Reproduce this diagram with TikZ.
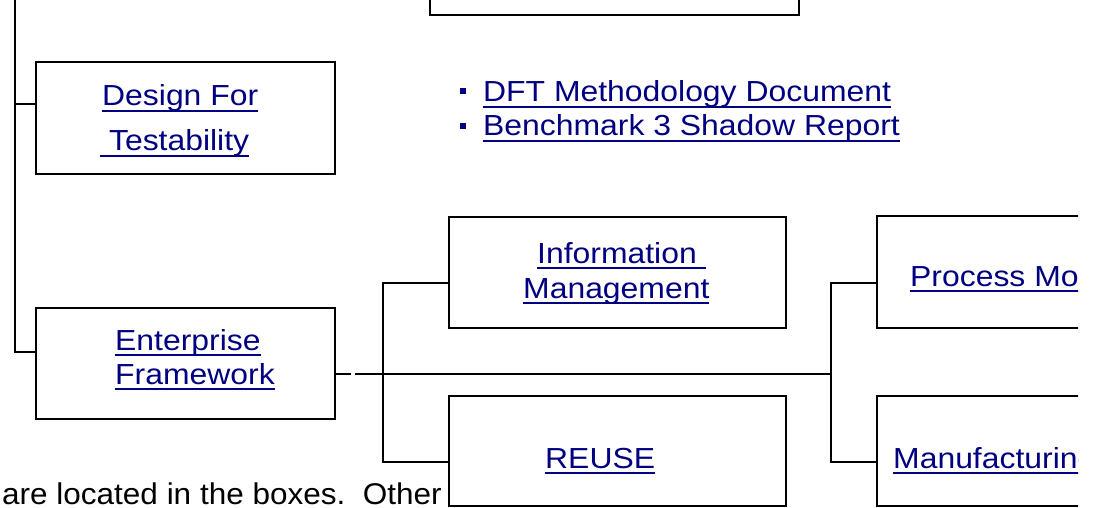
\documentclass[tikz,border=0pt]{standalone}
\usepackage{fontspec}
\setmainfont{Liberation Sans}[FakeStretch=1.1]
\newfontfamily\plainfont{Liberation Sans}[FakeStretch=1.05]
\definecolor{linkc}{RGB}{0,0,128}
\newcommand\lnk[1]{\setbox0\hbox{#1}\rlap{\color{linkc}\rule[-6pt]{\wd0}{2pt}}\box0}
\begin{document}
\begin{tikzpicture}[x=1pt,y=-1pt,
  box/.style={draw=black,line width=2.1pt,rectangle,inner sep=0pt},
  conn/.style={draw=black,line width=2.1pt},
  lbl/.style={anchor=base west,inner sep=0pt,text=linkc,font=\fontsize{29}{33}\selectfont},
  plain/.style={anchor=base west,inner sep=0pt,text=black,font=\plainfont\fontsize{30}{34}\selectfont},
  bulletsq/.style={fill=linkc,draw=none,minimum size=6pt,inner sep=0pt,rectangle}]
\useasboundingbox (0,0) rectangle (1096,508);
\clip (0,0) rectangle (1078,508);
% boxes
\node[box,minimum width=369pt,minimum height=115pt] (top) at (614.5,-42.5) {};
\node[box,minimum width=299pt,minimum height=112pt] (des) at (185.5,118) {};
\node[box,minimum width=299pt,minimum height=111pt] (ent) at (185.5,363.5) {};
\node[box,minimum width=337pt,minimum height=111pt] (info) at (617.5,272.5) {};
\node[box,minimum width=337pt,minimum height=110pt] (reuse) at (617.5,451) {};
\node[box,minimum width=273pt,minimum height=112pt] (proc) at (1013.5,272) {};
\node[box,minimum width=273pt,minimum height=110pt] (manu) at (1013.5,451) {};
% texts
\node[lbl] (t1) at (102,106) {\lnk{Design For}};
\node[lbl] (t2) at (100,151) {\lnk{ Testability}};
\node[lbl] (t3) at (115,350) {\lnk{Enterprise}};
\node[lbl] (t4) at (115,384) {\lnk{Framework}};
\node[lbl] (t5) at (537,263) {\lnk{Information }};
\node[lbl] (t6) at (523,298) {\lnk{Management}};
\node[lbl] (t7) at (545,468) {\lnk{REUSE}};
\node[lbl] (t8) at (910,286) {\lnk{Process Mo}};
\node[lbl] (t9) at (893,468) {\lnk{Manufacturing}};
\node[bulletsq] (b1) at (463,91) {};
\node[bulletsq] (b2) at (463,126) {};
\node[lbl] (l1) at (483,102) {\lnk{DFT Methodology Document}};
\node[lbl] (l2) at (483,136) {\lnk{Benchmark 3 Shadow Report}};
\node[plain] (note) at (2,504) {are located in the boxes.\ \ Other};
% connectors
\coordinate (trunk) at (15,0);
\coordinate (gapA) at (351,374);
\coordinate (gapB) at (355,374);
\coordinate (hub1) at (383,374);
\coordinate (hub2) at (831,374);
\draw[conn] (trunk) |- ([yshift=11.5pt]ent.west);
\draw[conn] ([yshift=14pt]des.west) -- ([yshift=14pt]des.west -| trunk);
\draw[conn] ([yshift=-10.5pt]ent.east) -- (gapA);
\draw[conn] (gapB) -- (hub2);
\draw[conn] ([yshift=-10.5pt]info.west) -| (hub1) |- ([yshift=-11pt]reuse.west);
\draw[conn] ([yshift=-11pt]proc.west) -| (hub2) |- ([yshift=-11pt]manu.west);
\end{tikzpicture}
\end{document}
